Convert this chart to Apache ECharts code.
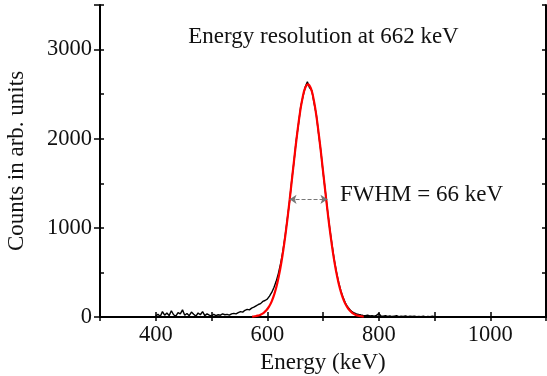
<!DOCTYPE html>
<html><head><meta charset="utf-8">
<script src="https://cdn.jsdelivr.net/npm/echarts@6/dist/echarts.min.js"></script>
<style>html,body{margin:0;padding:0;background:#fff}#c{width:547px;height:376px}</style>
</head><body><div id="c"></div>
<script>
// Measured spectrum (black), energies in keV
const dataEnergy = [400,404,408,412,416,420,424,428,432,436,440,444,448,452,456,460,464,468,472,476,480,484,488,492,496,500,504,508,512,516,520,524,528,532,536,540,544,548,552,556,560,564,568,572,576,580,584,588,592,596,600,604,608,612,616,620,624,628,632,636,640,644,648,652,656,660,664,668,672,676,680,684,688,692,696,700,704,708,712,716,720,724,728,732,736,740,744,748,752,756,760,764,768,772,776,780,784,788,792,796,800,804,808,812,816,820,824,828,832,836,840,844,848,852,856,860,864,868,872,876,880,884,888,892,896,900,904];
const dataCounts = [10,30,5,60,20,45,15,70,25,10,50,35,80,20,40,15,55,30,10,45,25,60,15,35,20,10,30,15,25,20,35,25,30,20,35,40,35,50,60,55,75,85,80,100,110,125,140,150,175,185,200,235,275,330,400,490,600,740,905,1100,1295,1540,1745,1985,2160,2360,2470,2580,2640,2570,2540,2400,2270,2060,1870,1630,1420,1200,1000,820,650,510,390,295,220,160,115,85,60,45,35,28,22,18,15,20,12,15,10,18,40,12,8,15,6,12,5,10,14,4,9,6,12,3,8,5,10,4,7,3,9,2,6,4,8,3,2];
// Gaussian fit (red)
const fitEnergy = [573,578,583,588,593,598,603,608,613,618,623,628,633,638,643,648,653,658,663,668,673,678,683,688,693,698,703,708,713,718,723,728,733,738,743,748,753,758,763,768,773];
const fitCounts = [4,8,15,26,44,72,115,176,263,379,530,717,941,1195,1470,1752,2022,2261,2449,2569,2610,2569,2449,2261,2022,1752,1470,1195,941,717,530,379,263,176,115,72,44,26,15,8,4];
const xTicks = [400,600,800,1000];
const yTicks = [0,1000,2000,3000];
const fwhmLine = [[640,1320],[708,1320]];

const F = 'Liberation Serif, Times New Roman, serif';
const chart = echarts.init(document.getElementById('c'), null, {renderer:'canvas'});
const axLine = {show:true, lineStyle:{color:'#000', width:2}};
chart.setOption({
  animation:false,
  grid:{left:100, right:1, top:5, bottom:59, containLabel:false, outerBoundsMode:'none'},
  xAxis:[
    {type:'value', min:300, max:1100, interval:100, position:'bottom',
     axisLine:axLine, splitLine:{show:false},
     axisTick:{show:true, inside:true, length:5, lineStyle:{color:'#000',width:1.5}},
     axisLabel:{color:'#111', fontFamily:F, fontSize:22.5, margin:7,
       formatter:v=> xTicks.includes(v)? String(v):''},
     name:'Energy (keV)', nameLocation:'middle', nameGap:29,
     nameTextStyle:{color:'#111', fontFamily:F, fontSize:23}},
    {type:'value', min:300, max:1100, interval:100, position:'top',
     axisLine:axLine, splitLine:{show:false},
     axisTick:{show:true, inside:true, length:4, lineStyle:{color:'#000',width:1.5}},
     axisLabel:{show:false}}
  ],
  yAxis:[
    {type:'value', min:0, max:3500, interval:500, position:'left',
     axisLine:axLine, splitLine:{show:false},
     axisTick:{show:true, inside:true, length:4, lineStyle:{color:'#000',width:1.5}},
     axisLabel:{color:'#111', fontFamily:F, fontSize:22.5, margin:8,
       formatter:v=> yTicks.includes(v)? String(v):''},
     name:'Counts in arb. units', nameLocation:'middle', nameGap:72,
     nameTextStyle:{color:'#111', fontFamily:F, fontSize:23}},
    {type:'value', min:0, max:3500, interval:500, position:'right',
     axisLine:axLine, splitLine:{show:false},
     axisTick:{show:true, inside:true, length:4, lineStyle:{color:'#000',width:1.5}},
     axisLabel:{show:false}},
    {type:'value', min:0, max:3500, interval:1000, position:'left',
     axisLine:{show:false}, splitLine:{show:false},
     axisTick:{show:true, inside:false, length:6, lineStyle:{color:'#000',width:1.5}},
     axisLabel:{show:false}}
  ],
  graphic:[
    {type:'text', x:323.5, y:37, style:{text:'Energy resolution at 662 keV', font:'23px '+F, fill:'#111', align:'center', verticalAlign:'middle'}},
    {type:'text', x:340, y:195, style:{text:'FWHM = 66 keV', font:'23px '+F, fill:'#111', align:'left', verticalAlign:'middle'}}
  ],
  series:[
    {type:'line', data:dataEnergy.map((e,i)=>[e,dataCounts[i]]), showSymbol:false,
     lineStyle:{color:'#000', width:1.4}, z:2},
    {type:'line', data:fitEnergy.map((e,i)=>[e,fitCounts[i]]), showSymbol:false, smooth:true,
     lineStyle:{color:'#ff0000', width:2.2}, z:3,
     markLine:{silent:true, symbol:['arrow','arrow'], symbolSize:7, label:{show:false},
       lineStyle:{color:'#777', type:'dashed', width:1},
       data:[[{coord:fwhmLine[0]},{coord:fwhmLine[1]}]]}}
  ]
});
</script></body></html>
